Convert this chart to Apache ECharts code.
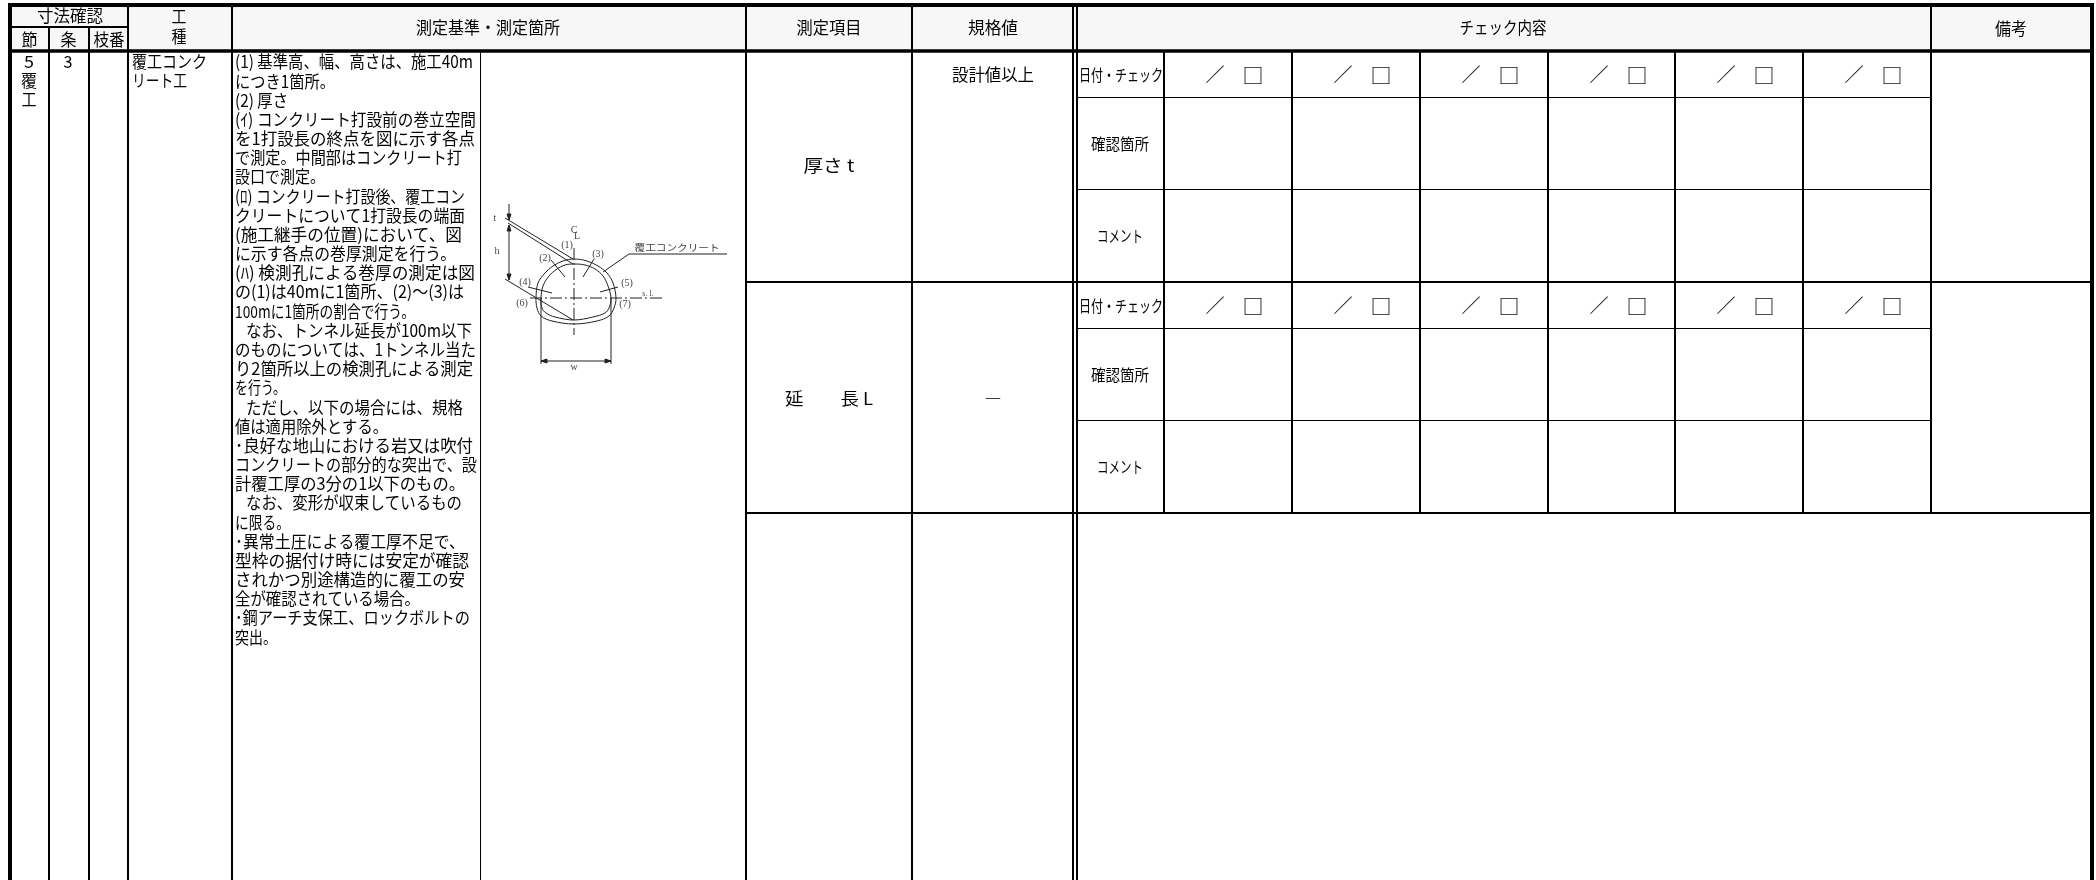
<!DOCTYPE html>
<html>
<head>
<meta charset="utf-8">
<title>寸法確認</title>
<script src="https://cdn.jsdelivr.net/npm/echarts@6/dist/echarts.min.js"></script>
<style>
html, body { margin: 0; padding: 0; background: #fff; }
#mainChart { width: 2096px; height: 880px; }
</style>
</head>
<body>
<div id="mainChart"></div>
<script>
// ---- text of the form ----
const headerLabels = ['寸法確認', '節', '条', '枝番', '工', '種', '測定基準・測定箇所', '測定項目', '規格値', 'チェック内容', '備考']
const sectionLabels = ['5', '覆', '工', '3', '覆工コンク', 'リート工']
const measureItems = ['厚さ t', '延　　長 L']
const standardValues = ['設計値以上', '―']
const checkRowLabels = ['日付・チェック', '確認箇所', 'コメント']
const noteLines = [
  '(1) 基準高、幅、高さは、施工40m',
  'につき1箇所。',
  '(2) 厚さ',
  '(ｲ) コンクリート打設前の巻立空間',
  'を1打設長の終点を図に示す各点',
  'で測定。中間部はコンクリート打',
  '設口で測定。',
  '(ﾛ) コンクリート打設後、覆工コン',
  'クリートについて1打設長の端面',
  '(施工継手の位置)において、図',
  'に示す各点の巻厚測定を行う。',
  '(ﾊ) 検測孔による巻厚の測定は図',
  'の(1)は40mに1箇所、(2)～(3)は',
  '100mに1箇所の割合で行う。',
  'なお、トンネル延長が100m以下',
  'のものについては、1トンネル当た',
  'り2箇所以上の検測孔による測定',
  'を行う。',
  'ただし、以下の場合には、規格',
  '値は適用除外とする。',
  '･良好な地山における岩又は吹付',
  'コンクリートの部分的な突出で、設',
  '計覆工厚の3分の1以下のもの。',
  'なお、変形が収束しているもの',
  'に限る。',
  '･異常土圧による覆工厚不足で、',
  '型枠の据付け時には安定が確認',
  'されかつ別途構造的に覆工の安',
  '全が確認されている場合。',
  '･鋼アーチ支保工、ロックボルトの',
  '突出。'
]
const diagramLabels = ['t', 'h', 'C', 'L', '(1)', '(2)', '(3)', '(4)', '(5)', '(6)', '(7)', 'w', 's. l.', '覆工コンクリート']

// ---- rule positions (page px) ----
const mainColumnX = [49, 89, 128, 232, 746, 912, 1073, 1077]
const checkColumnX = [1164, 1292, 1420, 1548, 1675, 1803, 1931]
const thinRowY = [98, 190, 329, 421]
const blockRowY = [282, 513]

// ---- anchors: centre x, centre y, drawn width ----
const headerAnchors = [[70, 16, 66], [29.5, 40, 16], [68.5, 40, 16], [109, 40, 31], [179, 17, 15], [179, 37, 15], [488, 28, 144], [829, 28, 65], [993, 28, 50], [1503, 28, 87], [2011, 29, 32]]
const sectionAnchors = [[29, 62, 10], [29, 81, 16], [29, 100, 15], [68, 62, 9]]
const measureAnchors = [[829, 166, 51], [829, 399, 88]]
const standardAnchors = [[993, 75, 82], [993, 399, 17]]
const checkLabelAnchors = [[1121, 75, 84], [1120, 144, 58], [1120, 236, 46], [1121, 306, 84], [1120, 375, 58], [1120, 467, 46]]
const checkMarkY = [75, 306]
// right end of each note line
const noteLineEnds = [473, 335, 288, 476, 475, 462, 325, 465, 465, 462, 456, 475, 464, 415, 472, 476, 473, 286, 463, 388, 473, 477, 465, 462, 290, 465, 469, 465, 420, 470, 277]
const noteIndented = [14, 18, 23]

// ---- tunnel sketch, points (page px) ----
const archOuter = [[574, 259], [587, 261], [598, 266], [607, 273], [613, 283], [616, 298], [614, 308], [609, 316], [597, 321], [574, 324], [552, 321], [541, 316], [537, 308], [536, 298], [538, 283], [545, 273], [553, 266], [563, 261]]
const archInner = [[574, 264], [585, 265], [595, 269], [603, 276], [608, 286], [611, 298], [609, 308], [605, 313], [593, 317], [574, 320], [555, 317], [546, 313], [542, 308], [541, 298], [543, 286], [549, 276], [557, 269], [565, 265]]
const sketchLines = [
  [[509, 204], [509, 220]],
  [[509, 225], [509, 280]],
  [[505, 218], [573, 259]],
  [[508, 223], [573, 264]],
  [[505, 279], [573, 320]],
  [[551, 260], [565, 277]],
  [[594, 259], [583, 277]],
  [[528, 287], [552, 293]],
  [[618, 287], [600, 292]],
  [[541, 298], [541, 364]],
  [[611, 298], [611, 364]],
  [[541, 361], [611, 361]],
  [[603, 272], [629, 254], [727, 254]]
]
const dashedLines = [
  [[574, 248], [574, 335]],
  [[530, 298], [663, 298]]
]
const arrowHeads = [
  [[509, 220], [507, 214], [511, 214]],
  [[509, 225], [507, 231], [511, 231]],
  [[509, 280], [507, 274], [511, 274]],
  [[541, 361], [547, 359], [547, 363]],
  [[611, 361], [605, 359], [605, 363]]
]
const diagramAnchors = [[495, 218], [497, 251], [574, 230], [577, 236], [567, 245], [545, 258], [598, 254], [525, 282], [627, 283], [522, 303], [625, 304], [574, 367], [648, 294], [677, 247]]

const FONT = '"Noto Sans CJK JP"'
const SERIF = '"Liberation Serif"'
const measureCtx = document.createElement('canvas').getContext('2d')

// squeeze a text into the width it has on the form
function fitScale(text, font, width) {
  if (!width) return 1
  measureCtx.font = font
  return width / measureCtx.measureText(text).width
}

const rects = []
const addRect = (x0, y0, x1, y1, color) => rects.push([x0, y0, x1, y1, color || '#000'])
const addV = (x, w, y0, y1) => addRect(x - w / 2, y0, x + w / 2, y1)
const addH = (y, w, x0, x1) => addRect(x0, y - w / 2, x1, y + w / 2)

addRect(12, 7, 2090, 50, '#f7f7f7')
mainColumnX.forEach((x, i) => {
  addV(x, 2, i < 2 ? 27 : 7, 880)
})
addV(480.5, 1, 52, 880)
checkColumnX.forEach((x, i) => {
  addV(x, 2, i === 6 ? 7 : 52, 513)
})
thinRowY.forEach(y => addH(y - 0.5, 1.2, 1077, 1931))
blockRowY.forEach(y => addH(y, 2, 746, 2090))
addH(27, 2, 12, 128)
addH(51, 3.4, 12, 2090)
addRect(8, 3, 2094, 7)
addRect(8, 3, 12, 880)
addRect(2090, 3, 2094, 880)

const texts = []
function addText(text, x, y, size, width, align, family, color, weight) {
  const font = `${weight || 400} ${size}px ${family || FONT}`
  texts.push({
    text, x, y, font,
    align: align || 'center',
    color: color || '#050505',
    scale: fitScale(text, font, width)
  })
}

headerLabels.forEach((t, i) => addText(t, headerAnchors[i][0], headerAnchors[i][1], 17, headerAnchors[i][2]))
sectionAnchors.forEach((a, i) => addText(sectionLabels[i], a[0], a[1], 17, a[2]))
addText(sectionLabels[4], 132, 62, 17, 75, 'left')
addText(sectionLabels[5], 132, 81, 17, 55, 'left')
measureItems.forEach((t, i) => addText(t, measureAnchors[i][0], measureAnchors[i][1], 17, measureAnchors[i][2]))
standardValues.forEach((t, i) => addText(t, standardAnchors[i][0], standardAnchors[i][1], 17, standardAnchors[i][2], 'center', FONT, '#000', i === 1 ? 700 : 400))
checkLabelAnchors.forEach((a, i) => addText(checkRowLabels[i % 3], a[0], a[1], 16, a[2]))
noteLines.forEach((t, i) => {
  const left = noteIndented.includes(i) ? 246 : 235
  addText(t, left, 62 + i * 19.17, 17, noteLineEnds[i] - left, 'left')
})
checkMarkY.forEach(y => {
  checkColumnX.slice(0, 6).forEach(x => {
    addText('／', x + 51, y, 19, 0)
    addText('□', x + 89, y, 21, 0, 'center', FONT, '#111', 500)
  })
})
diagramLabels.forEach((t, i) => {
  const cjk = i === diagramLabels.length - 1
  addText(t, diagramAnchors[i][0], diagramAnchors[i][1], cjk ? 9.5 : i === 12 ? 8 : 10, cjk ? 85 : 0, 'center', cjk ? FONT : SERIF, '#444')
})

const paths = []
paths.push({ points: archOuter, closed: true })
paths.push({ points: archInner, closed: true })
sketchLines.forEach(points => paths.push({ points }))
dashedLines.forEach(points => paths.push({ points, dash: [12, 3, 2, 3] }))
arrowHeads.forEach(points => paths.push({ points, closed: true, filled: true }))

const chart = echarts.init(document.getElementById('mainChart'), null, { renderer: 'canvas' })

chart.setOption({
  animation: false,
  backgroundColor: '#fff',
  grid: { left: 0, right: 0, top: 0, bottom: 0 },
  xAxis: { type: 'value', min: 0, max: 2096, show: false },
  yAxis: { type: 'value', min: 0, max: 880, inverse: true, show: false },
  series: [{
    // background fill and table rules
    type: 'custom',
    silent: true,
    clip: false,
    data: rects,
    renderItem: (params, api) => {
      const r = rects[params.dataIndex]
      const p0 = api.coord([r[0], r[1]])
      const p1 = api.coord([r[2], r[3]])
      return {
        type: 'rect',
        shape: { x: p0[0], y: p0[1], width: p1[0] - p0[0], height: p1[1] - p0[1] },
        style: { fill: r[4] }
      }
    }
  }, {
    // tunnel sketch
    type: 'custom',
    silent: true,
    clip: false,
    data: paths.map(p => p.points[0]),
    renderItem: (params, api) => {
      const p = paths[params.dataIndex]
      const points = p.points.map(pt => api.coord(pt))
      return {
        type: p.closed ? 'polygon' : 'polyline',
        shape: { points, smooth: p.filled || !p.closed ? 0 : 0.35 },
        style: {
          fill: p.filled ? '#222' : 'none',
          stroke: '#222',
          lineWidth: 1,
          lineDash: p.dash || null
        }
      }
    }
  }, {
    // all the text
    type: 'custom',
    silent: true,
    clip: false,
    data: texts.map(t => [t.x, t.y]),
    renderItem: (params, api) => {
      const t = texts[params.dataIndex]
      const p = api.coord([t.x, t.y])
      return {
        type: 'text',
        x: p[0],
        y: p[1],
        scaleX: t.scale,
        style: {
          text: t.text,
          x: 0,
          y: 0,
          font: t.font,
          fill: t.color,
          align: t.align,
          verticalAlign: 'middle'
        }
      }
    }
  }]
})
</script>
</body>
</html>
